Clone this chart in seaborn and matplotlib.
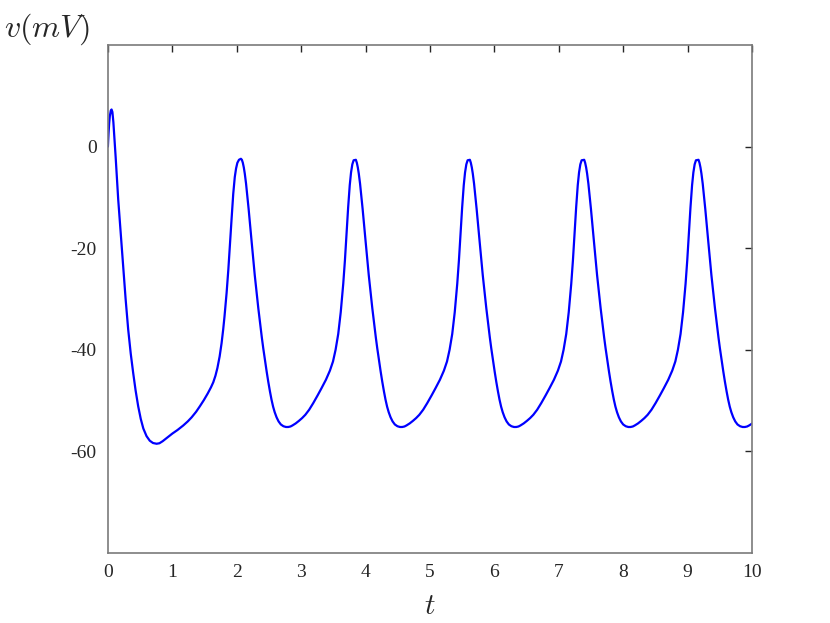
import numpy as np
import pandas as pd
import seaborn as sns
import matplotlib.pyplot as plt

# first transient, t from 0 up to the first spike peak
t_first = [0, 0.01, 0.02, 0.03, 0.045, 0.057, 0.07, 0.085, 0.1, 0.12, 0.14, 0.16,
           0.2, 0.238, 0.275, 0.315, 0.355, 0.393, 0.43, 0.47, 0.51, 0.55, 0.6, 0.65,
           0.7, 0.756, 0.8, 0.85, 0.92, 1.0, 1.08, 1.17, 1.24, 1.3, 1.37, 1.429,
           1.49, 1.55, 1.6, 1.636, 1.67, 1.70, 1.735, 1.765, 1.79, 1.81, 1.843, 1.87,
           1.894, 1.92, 1.946, 1.97, 1.99, 2.01, 2.035, 2.065]
v_first = [0, 2.6, 4.6, 6.0, 7.1, 7.3, 6.8, 4.8, 2.0, -2.0, -6.2, -10.4,
           -17.2, -23.6, -30.0, -36.0, -40.8, -44.6, -48.0, -51.1, -53.6, -55.5, -57.0, -57.9,
           -58.35, -58.5, -58.4, -58.0, -57.3, -56.5, -55.8, -54.9, -54.1, -53.3, -52.2, -51.1,
           -49.9, -48.6, -47.4, -46.4, -45.1, -43.6, -41.3, -38.7, -36.0, -33.5, -28.8, -24.2,
           -19.6, -14.3, -9.3, -6.0, -4.3, -3.2, -2.6, -2.4]

# one spike cycle, peak to next peak (time after peak, voltage)
dt_cycle = [0.0, 0.015, 0.03, 0.045, 0.06, 0.08, 0.10, 0.12, 0.14, 0.165, 0.19, 0.215,
            0.244, 0.27, 0.30, 0.325, 0.347, 0.375, 0.40, 0.425, 0.451, 0.475, 0.50, 0.525,
            0.554, 0.585, 0.62, 0.66, 0.70, 0.735, 0.77, 0.80, 0.85, 0.90, 0.95, 1.00,
            1.06, 1.123, 1.19, 1.25, 1.32, 1.382, 1.43, 1.47, 1.511, 1.55, 1.589, 1.615,
            1.641, 1.665, 1.69, 1.71, 1.73, 1.75]
v_cycle = [-2.4, -2.6, -3.2, -4.1, -5.3, -7.3, -9.7, -12.3, -15.0, -18.5, -22.0, -25.3,
           -28.8, -31.8, -35.0, -37.6, -39.7, -42.2, -44.3, -46.3, -48.2, -49.8, -51.2, -52.3,
           -53.3, -54.1, -54.7, -55.05, -55.2, -55.2, -55.1, -54.9, -54.5, -54.0, -53.45, -52.8,
           -51.8, -50.5, -49.0, -47.6, -45.9, -44.1, -42.3, -40.0, -36.9, -32.6, -27.0, -22.4,
           -17.0, -12.0, -7.6, -5.1, -3.5, -2.7]

# spike peak times
peaks = [2.065, 3.835, 5.605, 7.38, 9.155]

y_ticks = [-60, -40, -20, 0]
x_ticks = [0, 1, 2, 3, 4, 5, 6, 7, 8, 9, 10]

t_all = list(t_first)
v_all = list(v_first)
for p in peaks:
    t_all += [p + d for d in dt_cycle[1:]]
    v_all += v_cycle[1:]
df = pd.DataFrame({"t": t_all, "v": v_all})

sns.set_style("white")
plt.rcParams['font.family'] = ['Liberation Serif', 'DejaVu Serif']
plt.rcParams['mathtext.fontset'] = 'cm'

fig = plt.figure(figsize=(8.3, 6.23), dpi=100)
ax = fig.add_axes([0.130, 0.1124, 0.776, 0.8154])

sns.lineplot(data=df, x="t", y="v", sort=False, estimator=None, color=(0, 0, 1), linewidth=1.6, ax=ax)

ax.set_xlim(0, 10)
ax.set_ylim(-80, 20)
ax.set_xticks(x_ticks)
ax.set_xticklabels([str(x) for x in x_ticks])
ax.set_yticks(y_ticks)
ax.set_yticklabels([str(y) for y in y_ticks])
ax.tick_params(direction='in', length=5, width=1, color='#262626', labelsize=14,
               top=True, right=True, pad=8, labelcolor='#262626')

for s in ax.spines.values():
    s.set_visible(True)
    s.set_color('#7a7a7a')
    s.set_linewidth(1.2)

ax.set_xlabel('$t$', fontsize=21, va='center')
ax.xaxis.set_label_coords(0.5, -0.106)
ax.set_ylabel('$v(mV)$', fontsize=23, rotation=0, va='center')
ax.yaxis.set_label_coords(-0.095, 1.03)

fig.savefig("out.png", dpi=100)
